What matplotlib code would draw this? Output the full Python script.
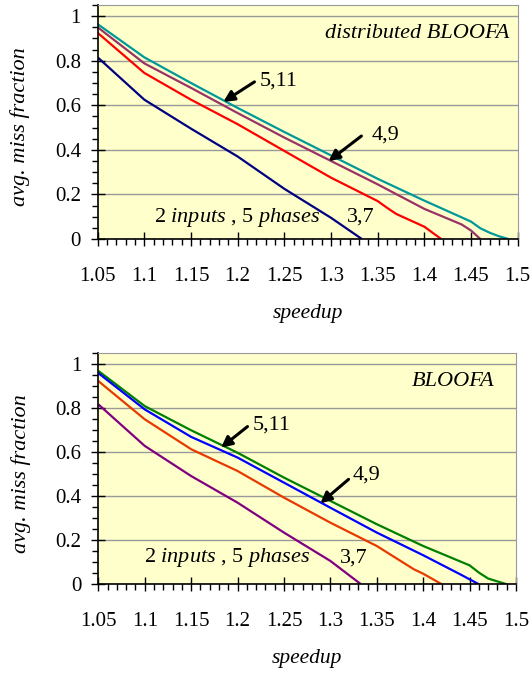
import matplotlib
matplotlib.use("Agg")
import matplotlib.pyplot as plt
from matplotlib.ticker import MultipleLocator

plt.rcParams['font.family'] = ['Liberation Serif']
plt.rcParams['mathtext.fontset'] = 'custom'
plt.rcParams['mathtext.rm'] = 'Liberation Serif'
plt.rcParams['mathtext.it'] = 'Liberation Serif:italic'

# ---- top panel: distributed BLOOFA ----
top_x_511 = [1.05, 1.10, 1.15, 1.20, 1.25, 1.30, 1.35, 1.40, 1.45, 1.46, 1.47, 1.48, 1.49]
top_y_511 = [0.964, 0.815, 0.700, 0.588, 0.480, 0.375, 0.270, 0.172, 0.078, 0.048, 0.028, 0.012, 0.0]
top_x_49 = [1.05, 1.10, 1.15, 1.20, 1.25, 1.30, 1.35, 1.40, 1.44, 1.45, 1.46]
top_y_49 = [0.950, 0.788, 0.678, 0.565, 0.455, 0.350, 0.245, 0.135, 0.065, 0.038, 0.0]
top_x_37 = [1.05, 1.10, 1.15, 1.20, 1.25, 1.30, 1.35, 1.36, 1.37, 1.40, 1.418]
top_y_37 = [0.925, 0.745, 0.625, 0.515, 0.395, 0.275, 0.170, 0.140, 0.112, 0.055, 0.0]
top_x_25 = [1.05, 1.10, 1.15, 1.20, 1.25, 1.30, 1.333]
top_y_25 = [0.815, 0.625, 0.495, 0.370, 0.225, 0.095, 0.0]

# ---- bottom panel: BLOOFA ----
bot_x_511 = [1.05, 1.10, 1.15, 1.20, 1.25, 1.30, 1.35, 1.40, 1.45, 1.46, 1.47, 1.49]
bot_y_511 = [0.970, 0.810, 0.700, 0.598, 0.485, 0.379, 0.273, 0.174, 0.086, 0.053, 0.026, 0.0]
bot_x_49 = [1.05, 1.10, 1.15, 1.20, 1.25, 1.30, 1.35, 1.40, 1.44, 1.46]
bot_y_49 = [0.960, 0.795, 0.670, 0.576, 0.462, 0.348, 0.235, 0.132, 0.045, 0.0]
bot_x_37 = [1.05, 1.10, 1.15, 1.20, 1.25, 1.30, 1.35, 1.39, 1.40, 1.42]
bot_y_37 = [0.924, 0.750, 0.614, 0.515, 0.394, 0.280, 0.174, 0.068, 0.048, 0.0]
bot_x_25 = [1.05, 1.10, 1.15, 1.20, 1.25, 1.30, 1.333]
bot_y_25 = [0.818, 0.629, 0.492, 0.371, 0.235, 0.106, 0.0]

top_colors = ['#009999', '#993366', '#FF0000', '#000080']
bot_colors = ['#008000', '#0000FF', '#E83A00', '#800080']

x_ticks = [1.05, 1.1, 1.15, 1.2, 1.25, 1.3, 1.35, 1.4, 1.45, 1.5]
x_ticklabels = ['1.05', '1.1', '1.15', '1.2', '1.25', '1.3', '1.35', '1.4', '1.45', '1.5']
y_ticks = [0, 0.2, 0.4, 0.6, 0.8, 1.0]
y_ticklabels = ['0', '0.2', '0.4', '0.6', '0.8', '1']

# label positions (data coords): (text, x, y, arrow tail, arrow head)
top_labels = [('5,11', 1.2235, 0.708, (1.218, 0.705), (1.1846, 0.615)),
              ('4,9', 1.3436, 0.468, (1.3326, 0.462), (1.2974, 0.349)),
              ('3,7', 1.317, 0.097, None, None)]
bot_labels = [('5,11', 1.2162, 0.723, (1.2107, 0.717), (1.1822, 0.621)),
              ('4,9', 1.324, 0.495, (1.3196, 0.477), (1.2892, 0.368)),
              ('3,7', 1.3104, 0.121, None, None)]


def draw_panel(ax, xs, ys, colors, title, title_x, labels, note_x, note_y):
    ax.set_facecolor('#FFFFCC')
    ax.grid(axis='y', color='#999999', linewidth=1.0)
    ax.set_axisbelow(True)
    for x, y, c in zip(xs, ys, colors):
        ax.plot(x, y, color=c, linewidth=1.6, solid_capstyle='butt')

    ax.set_xlim(1.05, 1.5)
    ax.set_ylim(0, 1.05)
    ax.set_xticks(x_ticks)
    ax.set_xticklabels(x_ticklabels)
    ax.set_yticks(y_ticks)
    ax.set_yticklabels(y_ticklabels)
    ax.xaxis.set_minor_locator(MultipleLocator(0.01))
    ax.yaxis.set_minor_locator(MultipleLocator(0.05))
    ax.tick_params(axis='both', which='major', direction='inout', length=10,
                   width=1.0, labelsize=15)
    ax.tick_params(axis='both', which='minor', direction='out', length=4,
                   width=1.0)
    ax.tick_params(axis='x', which='major', pad=15)
    ax.tick_params(axis='y', which='major', pad=7)
    for s in ['top', 'right']:
        ax.spines[s].set_color('#999999')
    for s in ['left', 'bottom']:
        ax.spines[s].set_color('black')
        ax.spines[s].set_linewidth(1.2)

    ax.set_xlabel('speedup', style='italic', fontsize=15.5)
    ax.set_ylabel('avg. miss fraction', style='italic', fontsize=16)
    ax.xaxis.set_label_coords(0.5, -0.28)
    ax.yaxis.set_label_coords(-0.16, 0.48)

    ax.text(title_x, 0.922, title, style='italic', fontsize=16,
            ha='right', va='center')
    for txt, tx, ty, tail, head in labels:
        ax.text(tx, ty, txt, fontsize=16, ha='left', va='center')
        if tail is not None:
            ax.annotate('', xy=head, xytext=tail,
                        arrowprops=dict(arrowstyle='-|>', color='black',
                                        lw=2.2, mutation_scale=16,
                                        shrinkA=0, shrinkB=0))
    ax.text(note_x, note_y, r'2 $\mathit{inputs}$ , 5 $\mathit{phases}$',
            fontsize=16, ha='left', va='center')


fig = plt.figure(figsize=(5.32, 6.75), dpi=100)
ax_top = fig.add_axes([0.1836, 0.646, 0.7894, 0.3466])
ax_bot = fig.add_axes([0.1848, 0.1344, 0.7852, 0.3422])

draw_panel(ax_top,
           [top_x_511, top_x_49, top_x_37, top_x_25],
           [top_y_511, top_y_49, top_y_37, top_y_25],
           top_colors, 'distributed BLOOFA', 1.491, top_labels, 1.1107, 0.097)
draw_panel(ax_bot,
           [bot_x_511, bot_x_49, bot_x_37, bot_x_25],
           [bot_y_511, bot_y_49, bot_y_37, bot_y_25],
           bot_colors, 'BLOOFA', 1.477, bot_labels, 1.0993, 0.121)

fig.savefig('out.png', dpi=100)
